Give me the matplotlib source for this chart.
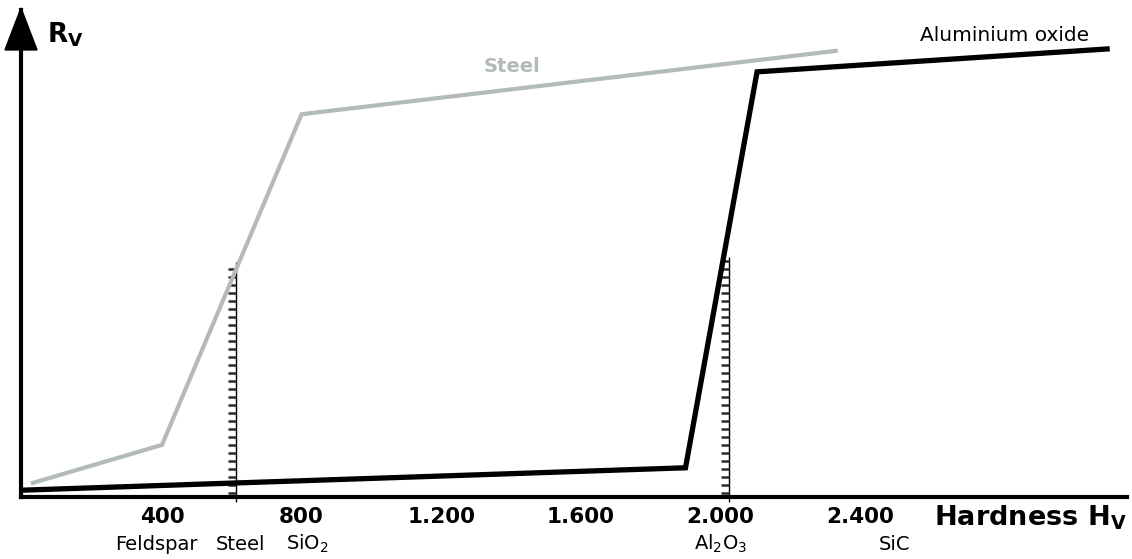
import numpy as np
import matplotlib
matplotlib.use("Agg")
import matplotlib.pyplot as plt
from matplotlib.patches import Polygon

plt.rcParams["font.family"] = ["DejaVu Sans"]
plt.rcParams["mathtext.fontset"] = "dejavusans"

# Wear resistance R_V against hardness H_V for two abrasive-facing materials
steel_hv = [30, 400, 800, 2330]
steel_rv = [2.9, 10.7, 78.6, 91.6]
alox_hv = [0, 1900, 2105, 3108]
alox_rv = [1.4, 6.0, 87.3, 92.0]

tick_values = [400, 800, 1200, 1600, 2000, 2400]
tick_labels = ["400", "800", "1.200", "1.600", "2.000", "2.400"]

material_names = ["Feldspar", "Steel", "SiO$_2$", "Al$_2$O$_3$", "SiC"]
material_pos = [385, 625, 815, 2000, 2500]

# hardness of the two surfaces and the height of their hatched markers
marker_hv = [612, 2025]
marker_top = [48.3, 49.3]

STEEL_GREY = "#b2bbba"

fig = plt.figure(figsize=(11.32, 5.59), dpi=100)
ax = fig.add_axes([21 / 1132, 62 / 559, 1106 / 1132, 487 / 559])
ax.set_xlim(-4, 3165)
ax.set_ylim(0, 100)

for side in ("top", "right"):
    ax.spines[side].set_visible(False)
for side in ("left", "bottom"):
    ax.spines[side].set_linewidth(3)
    ax.spines[side].set_capstyle("projecting")

# arrow head on the R_V axis
ax.add_patch(Polygon([(-0.0145, 0.918), (0.0145, 0.918), (0.0, 1.004)],
                     closed=True, transform=ax.transAxes, color="black",
                     clip_on=False, zorder=5))

ax.set_yticks([])
ax.set_xticks(tick_values, tick_labels, fontsize=15.5, fontweight="bold")
ax.tick_params(axis="x", length=0, pad=7)

# hatched markers at the surface hardness
for hv, top in zip(marker_hv, marker_top):
    ax.vlines(hv, -1, top, color="black", lw=1.0, zorder=2, clip_on=False)
    ys = np.arange(0.9, top, 1.64)
    ax.hlines(ys, hv - 22, hv, color="#2a2a2a", lw=1.8, zorder=2)

ax.plot(steel_hv, steel_rv, color=STEEL_GREY, lw=3.0,
        solid_joinstyle="miter", zorder=3, clip_on=False)
ax.plot(alox_hv, alox_rv, color="black", lw=3.8,
        solid_joinstyle="miter", zorder=4, clip_on=False)

ax.text(1403, 88.5, "Steel", color=STEEL_GREY, fontsize=14,
        fontweight="bold", ha="center", va="center")
ax.text(2815, 94.7, "Aluminium oxide", color="black", fontsize=14.5,
        ha="center", va="center")

for name, pos in zip(material_names, material_pos):
    ax.annotate(name, xy=(pos, 0), xycoords=("data", "axes fraction"),
                xytext=(0, -38.2), textcoords="offset points",
                ha="center", va="baseline", fontsize=14)

ax.annotate(r"Hardness H$_\mathbf{V}$", xy=(1, 0), xycoords="axes fraction",
            xytext=(0, -20.2), textcoords="offset points",
            ha="right", va="baseline", fontsize=19.5, fontweight="bold")
ax.annotate(r"R$_\mathbf{V}$", xy=(0.0235, 0.934), xycoords="axes fraction",
            ha="left", va="baseline", fontsize=19, fontweight="bold",
            annotation_clip=False)

fig.savefig("out.png", dpi=100)
